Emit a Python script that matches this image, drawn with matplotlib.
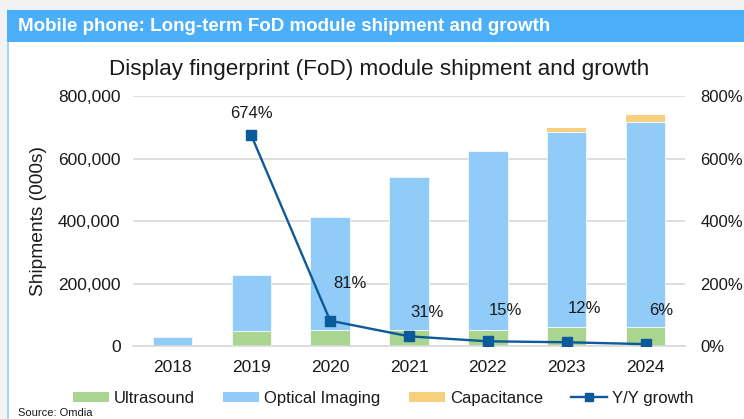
import matplotlib
matplotlib.use("Agg")
import matplotlib.pyplot as plt
from matplotlib.patches import Rectangle
from matplotlib.lines import Line2D
from matplotlib.ticker import FuncFormatter

years = ["2018", "2019", "2020", "2021", "2022", "2023", "2024"]
ultrasound = [0, 47000, 50000, 52000, 52000, 60000, 60000]
optical = [29000, 180000, 364000, 490000, 573000, 626000, 658000]
capacitance = [0, 0, 0, 0, 0, 12000, 22000]
growth = [None, 674, 81, 31, 15, 12, 6]
growth_labels = ["", "674%", "81%", "31%", "15%", "12%", "6%"]

C_GREEN = "#A9D591"
C_BLUE = "#91CBF8"
C_YELLOW = "#F7D07E"
C_LINE = "#0C5A99"
C_GRID = "#D9D9D9"
C_TEXT = "#1a1a1a"

plt.rcParams['font.family'] = ['Liberation Sans', 'DejaVu Sans']

fig = plt.figure(figsize=(7.44, 4.19), dpi=100)
fig.patch.set_facecolor("#F2F2F2")

# white panel, left border and header band
fig.patches.append(Rectangle((7/744, 0), 1, 1 - 10/419, transform=fig.transFigure,
                             facecolor="white", edgecolor="none", zorder=-2))
fig.patches.append(Rectangle((7/744, 0), 1.5/744, 1 - 10/419, transform=fig.transFigure,
                             facecolor="#A6D4F8", edgecolor="none", zorder=-1))
fig.patches.append(Rectangle((7/744, 1 - 42/419), 1, 32/419, transform=fig.transFigure,
                             facecolor="#4BAEF8", edgecolor="none", zorder=-1))
fig.text(18/744, 1 - 26.5/419, "Mobile phone: Long-term FoD module shipment and growth",
         color="white", fontsize=13.5, fontweight="bold", va="center", ha="left")

ax = fig.add_axes([133/744, 1 - 346/419, (685 - 133)/744, 250/419])
x = list(range(len(years)))
w = 0.5
bottom2 = [u + o for u, o in zip(ultrasound, optical)]
ax.bar(x, ultrasound, width=w, color=C_GREEN, edgecolor="white", linewidth=0.5, zorder=2)
ax.bar(x, optical, width=w, bottom=ultrasound, color=C_BLUE, edgecolor="white", linewidth=0.5, zorder=2)
ax.bar(x, capacitance, width=w, bottom=bottom2, color=C_YELLOW, edgecolor="none", zorder=2)

ax.set_ylim(0, 800000)
ax.set_xlim(-0.5, len(years) - 0.5)
ax.set_yticks(range(0, 800001, 200000))
ax.yaxis.set_major_formatter(FuncFormatter(lambda v, p: f"{int(v):,}"))
ax.set_xticks(x)
ax.set_xticklabels(years)
ax.grid(axis="y", color=C_GRID, linewidth=1.2, zorder=0)
ax.set_axisbelow(True)
for s in ["top", "right", "left"]:
    ax.spines[s].set_visible(False)
ax.spines["bottom"].set_color(C_GRID)
ax.spines["bottom"].set_linewidth(1.2)
ax.tick_params(axis="both", length=0, labelsize=12.5, colors=C_TEXT)
ax.tick_params(axis="x", pad=10)
ax.tick_params(axis="y", pad=9)
ax.set_ylabel("Shipments (000s)", fontsize=13.8, color=C_TEXT, labelpad=8)

ax2 = ax.twinx()
gx = [i for i, g in zip(x, growth) if g is not None]
gy = [g for g in growth if g is not None]
ax2.plot(gx, gy, color=C_LINE, linewidth=1.7, marker="s", markersize=7.5, zorder=5)
ax2.set_ylim(0, 800)
ax2.set_yticks(range(0, 801, 200))
ax2.yaxis.set_major_formatter(FuncFormatter(lambda v, p: f"{int(v)}%"))
for s in ["top", "right", "left", "bottom"]:
    ax2.spines[s].set_visible(False)
ax2.tick_params(axis="y", length=0, labelsize=12, colors=C_TEXT, pad=11)

offsets = [(0, 0), (0, 15.5), (14, 26.5), (13, 17.5), (13, 22.5), (13, 24), (11, 24)]
for i, (g, lab) in enumerate(zip(growth, growth_labels)):
    if g is None:
        continue
    ax2.annotate(lab, (i, g), xytext=offsets[i], textcoords="offset points",
                 ha="center", va="center", fontsize=12, color=C_TEXT)

fig.text(379/744, 1 - 70/419,
         "Display fingerprint (FoD) module shipment and growth",
         ha="center", va="center", fontsize=16.2, color=C_TEXT)

handles = [
    Rectangle((0, 0), 1, 1, facecolor=C_GREEN),
    Rectangle((0, 0), 1, 1, facecolor=C_BLUE),
    Rectangle((0, 0), 1, 1, facecolor=C_YELLOW),
    Line2D([0], [0], color=C_LINE, linewidth=1.7, marker="s", markersize=6),
]
labels = ["Ultrasound", "Optical Imaging", "Capacitance", "Y/Y growth"]
fig.legend(handles, labels, loc="center", bbox_to_anchor=(383.5/744, 1 - 398/419),
           ncol=4, frameon=False, fontsize=12, handlelength=2.16, handleheight=0.54,
           columnspacing=1.7, handletextpad=0.3, borderpad=0, labelcolor=C_TEXT)

fig.text(18/744, 1 - 413/419, "Source: Omdia", fontsize=8, ha="left", va="center",
         color=C_TEXT)

fig.savefig("out.png", dpi=100, facecolor=fig.get_facecolor())
